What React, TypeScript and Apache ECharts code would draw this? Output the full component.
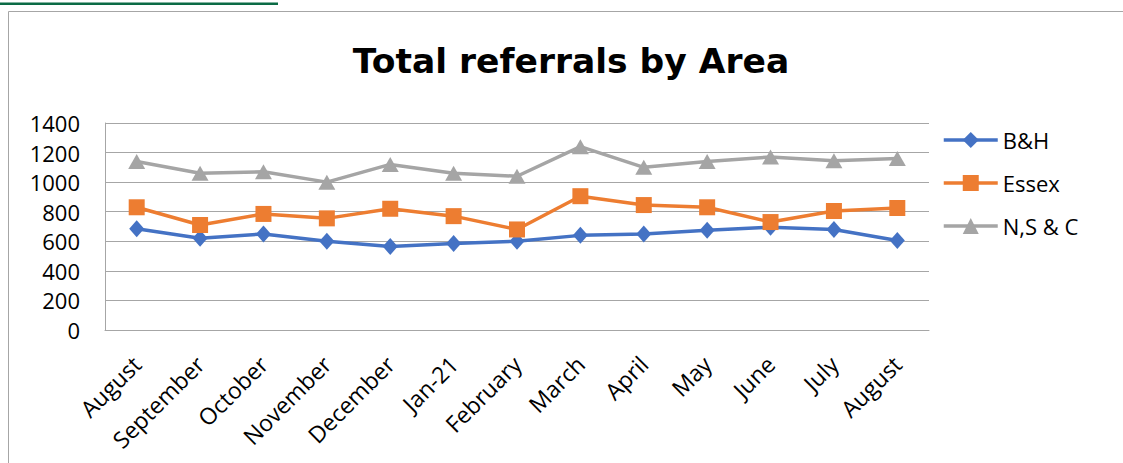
import React, { useEffect, useRef } from "react";
import * as echarts from "echarts";

const months = ["August", "September", "October", "November", "December", "Jan-21", "February", "March", "April", "May", "June", "July", "August"];
const bhValues = [685, 620, 650, 600, 565, 585, 600, 640, 650, 675, 695, 680, 605];
const essexValues = [830, 710, 785, 755, 820, 770, 680, 905, 845, 830, 730, 805, 825];
const nscValues = [1140, 1060, 1070, 1000, 1120, 1060, 1040, 1240, 1100, 1140, 1170, 1145, 1160];
const chartTitle = "Total referrals by Area";

const FONT = "'Open Sans', 'Noto Sans', sans-serif";
const TITLE_FONT = "'DejaVu Sans', 'Open Sans', sans-serif";

export default function App() {
  const ref = useRef<HTMLDivElement>(null);
  useEffect(() => {
    if (!ref.current) return;
    const chart = echarts.init(ref.current, undefined, { renderer: "svg" });
    const mk = (name: string, data: number[], color: string, symbol: string, size: any) => ({
      name,
      type: "line",
      data,
      symbol,
      symbolSize: size,
      showAllSymbol: true,
      lineStyle: { color, width: 3.5 },
      itemStyle: { color },
    });
    chart.setOption({
      animation: false,
      textStyle: { fontFamily: FONT },
      title: {
        text: chartTitle,
        left: 566,
        top: 38,
        textAlign: "center",
        textStyle: { fontSize: 34.5, fontWeight: "bold", color: "#000", fontFamily: TITLE_FONT },
      },
      graphic: [
        {
          type: "rect",
          shape: { x: 8.5, y: 11.5, width: 1300, height: 600 },
          style: { fill: "none", stroke: "#a6a6a6", lineWidth: 1 },
          silent: true,
        },
        {
          type: "rect",
          shape: { x: 0, y: 2.5, width: 278, height: 2.5 },
          style: { fill: "#0b6b45" },
          silent: true,
        },
      ],
      legend: {
        orient: "vertical",
        left: 937,
        top: 124,
        itemWidth: 54,
        itemHeight: 20,
        itemGap: 21,
        lineStyle: { width: 3.5 },
        textStyle: { fontSize: 22, color: "#000", fontFamily: FONT },
        data: ["B&H", "Essex", "N,S & C"],
      },
      grid: { left: 105, right: 194, top: 123, bottom: 133 },
      xAxis: {
        type: "category",
        data: months,
        boundaryGap: true,
        axisLine: { show: true, lineStyle: { color: "#a6a6a6", width: 1 } },
        axisTick: { show: false },
        axisLabel: { rotate: 45, fontSize: 23, color: "#000", margin: 30, interval: 0, fontFamily: FONT },
      },
      yAxis: {
        type: "value",
        min: 0,
        max: 1400,
        interval: 200,
        axisLine: { show: true, lineStyle: { color: "#a6a6a6", width: 1 } },
        axisTick: { show: false },
        splitLine: { lineStyle: { color: "#a6a6a6", width: 1 } },
        axisLabel: { fontSize: 22, color: "#000", margin: 25, fontFamily: FONT, formatter: (v: number) => String(v) },
      },
      series: [
        mk("B&H", bhValues, "#4472C4", "diamond", [15, 17]),
        mk("Essex", essexValues, "#ED7D31", "rect", [16, 16]),
        mk("N,S & C", nscValues, "#A5A5A5", "triangle", [17, 15]),
      ],
    });
    return () => chart.dispose();
  }, []);
  return (
    <div
      ref={ref}
      style={{ position: "absolute", left: 0, top: 0, width: 1123, height: 463, background: "#fff" }}
    />
  );
}
